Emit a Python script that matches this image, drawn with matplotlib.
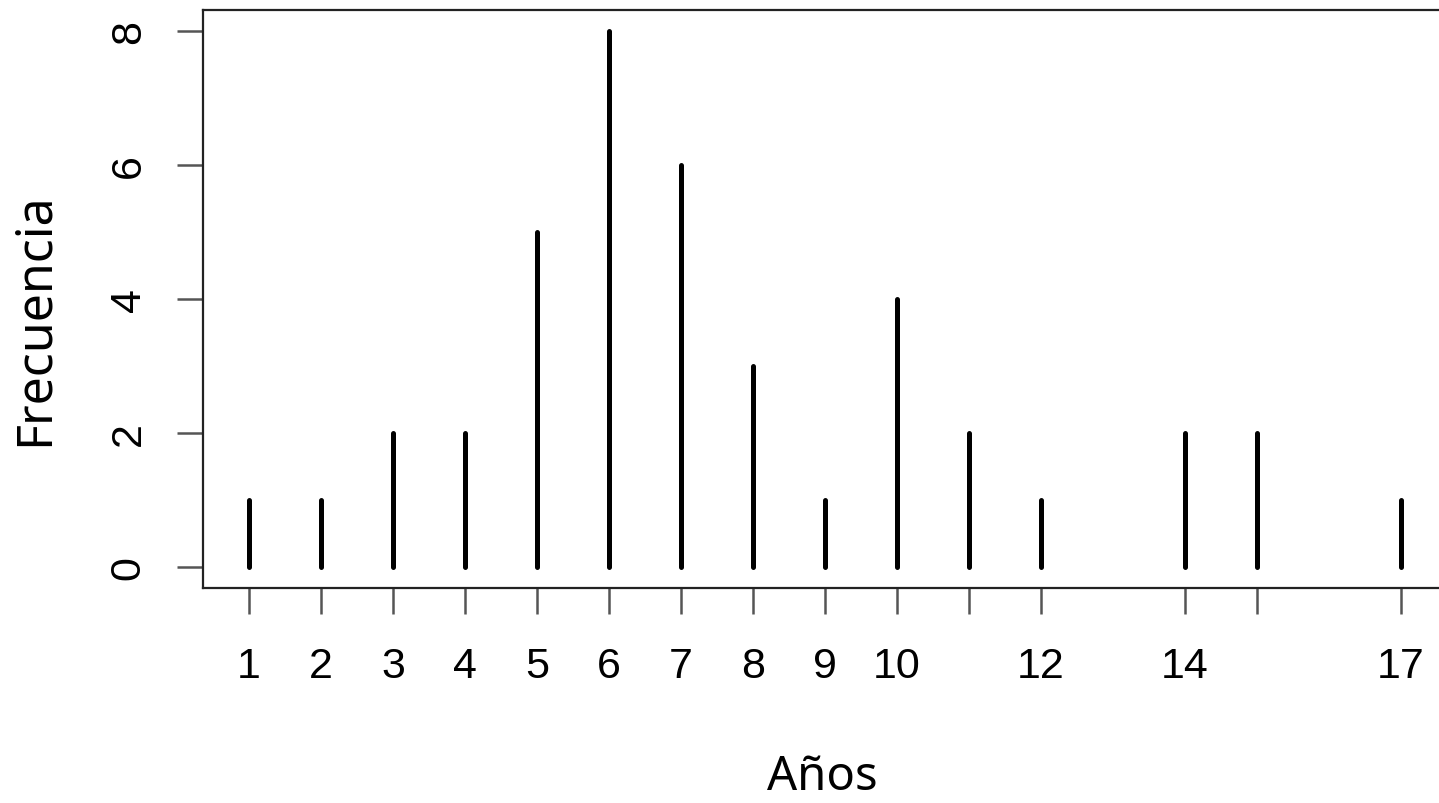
import matplotlib
matplotlib.use('Agg')
import matplotlib.pyplot as plt

# frequency table of years
anios = [1, 2, 3, 4, 5, 6, 7, 8, 9, 10, 11, 12, 14, 15, 17]
frecuencia = [1, 1, 2, 2, 5, 8, 6, 3, 1, 4, 2, 1, 2, 2, 1]
xtick_labels = ['1', '2', '3', '4', '5', '6', '7', '8', '9', '10', '', '12', '14', '', '17']
yticks = [0, 2, 4, 6, 8]

W, H = 1439, 804
fig = plt.figure(figsize=(W / 100, H / 100), dpi=100)
# plot region runs past the right edge, as in the cropped original
ax = fig.add_axes([203 / W, 1 - 589 / H, (1447 - 203) / W, (589 - 11) / H])

ax.vlines(anios, 0, frecuencia, colors='black', linewidth=3.6, capstyle='round')

ax.set_xlim(0.36, 17.64)
ax.set_ylim(-0.32, 8.32)

ax.set_xticks(anios)
ax.set_xticklabels(xtick_labels, fontsize=31, family='Liberation Sans')
ax.set_yticks(yticks)
ax.set_yticklabels([str(v) for v in yticks], fontsize=31, family='Liberation Sans',
                   rotation=90, va='center')

for s in ax.spines.values():
    s.set_linewidth(1.6)
    s.set_color('#222222')
ax.tick_params(axis='both', length=19, width=1.8, color='#555555')
ax.tick_params(axis='x', pad=23)
ax.tick_params(axis='y', pad=20)

fig.text(822 / W, 1 - 790 / H, 'Años', fontsize=34, family='Noto Sans',
         ha='center', va='baseline')
fig.text(35 / W, 1 - 319 / H, 'Frecuencia', fontsize=36, family='Noto Sans',
         ha='center', va='center', rotation=90)

fig.savefig('out.png', dpi=100)
